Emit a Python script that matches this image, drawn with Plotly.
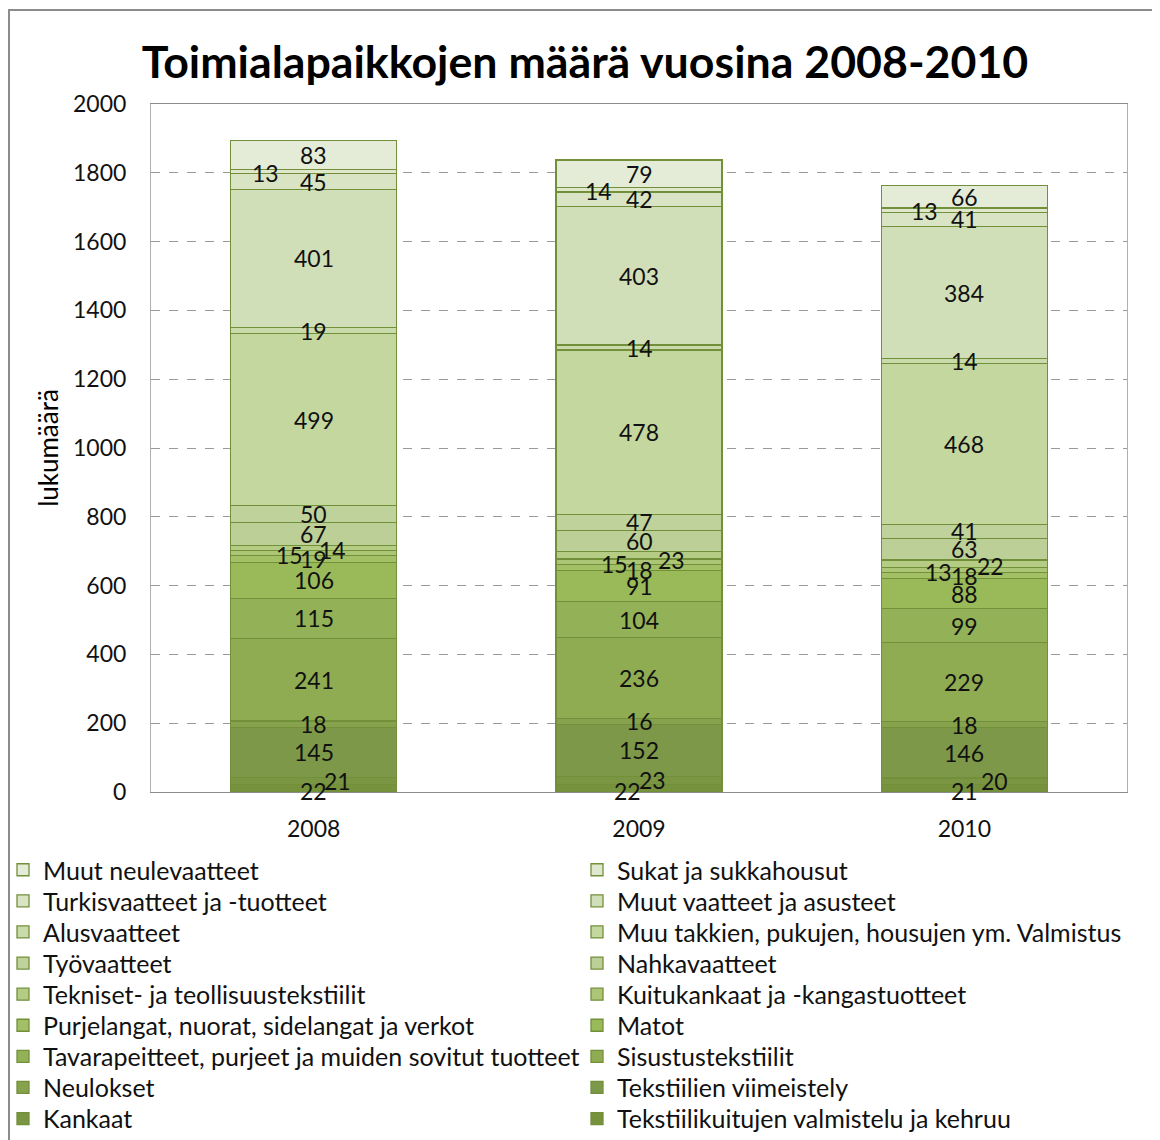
import numpy as np
import plotly.graph_objects as go

years = ["2008", "2009", "2010"]

# series from bottom of the stack to the top
series_names = [
    "Tekstiilikuitujen valmistelu ja kehruu",
    "Kankaat",
    "Tekstiilien viimeistely",
    "Neulokset",
    "Sisustustekstiilit",
    "Tavarapeitteet, purjeet ja muiden sovitut tuotteet",
    "Matot",
    "Purjelangat, nuorat, sidelangat ja verkot",
    "Kuitukankaat ja -kangastuotteet",
    "Tekniset- ja teollisuustekstiilit",
    "Nahkavaatteet",
    "Työvaatteet",
    "Muu takkien, pukujen, housujen ym. Valmistus",
    "Alusvaatteet",
    "Muut vaatteet ja asusteet",
    "Turkisvaatteet ja -tuotteet",
    "Sukat ja sukkahousut",
    "Muut neulevaatteet",
]

values_2008 = [22, 21, 145, 18, 241, 115, 106, 19, 15, 14, 67, 50, 499, 19, 401, 45, 13, 83]
values_2009 = [22, 23, 152, 16, 236, 104, 91, 18, 15, 23, 60, 47, 478, 14, 403, 42, 14, 79]
values_2010 = [21, 20, 146, 18, 229, 99, 88, 18, 13, 22, 63, 41, 468, 14, 384, 41, 13, 66]

y_ticks = [0, 200, 400, 600, 800, 1000, 1200, 1400, 1600, 1800, 2000]

colors = [
    "#76923C", "#7A9642", "#7D9848", "#86A24C", "#8FAC52", "#93B257", "#9ABA59",
    "#A3C067", "#ACC676", "#B5CC85", "#BCCF97", "#BFD29C", "#C4D79F", "#CADBAB",
    "#D1DFB9", "#D8E4C3", "#DFE8CD", "#E4ECD7",
]

# pixel nudges for overlapping data labels: (series index, year index) -> (dx, dy down)
label_shift = {
    (0, 0): (0, 3), (1, 0): (24, 0), (8, 0): (-24, 2), (9, 0): (19, 2), (16, 0): (-48, 1),
    (0, 1): (-12, 3), (1, 1): (13, 0), (7, 1): (0, 3), (8, 1): (-25, 2), (9, 1): (32, 5),
    (16, 1): (-41, 1),
    (0, 2): (0, 3), (1, 2): (30, 0), (7, 2): (0, 1), (8, 2): (-26, 2), (9, 2): (26, 2),
    (16, 2): (-40, 1),
}

data = np.array([values_2008, values_2009, values_2010]).T  # series x years
tops = np.cumsum(data, axis=0)
mids = tops - data / 2.0

font_family = "Lato, 'Open Sans', sans-serif"

# plot area geometry (figure pixels)
L, T, W, H = 143, 96, 976, 688
FIG_W, FIG_H = 1160, 1140

n = len(series_names)
fig = go.Figure()
legends = {}
for s, name in enumerate(series_names):
    lid = "legend" if s == 0 else f"legend{s + 1}"
    k = n - 1 - s
    row, col = k // 2, k % 2
    text_left = 35 if col == 0 else 609
    row_y = 862 + 31.1 * row
    legends[lid] = dict(
        x=(text_left - 40 - L) / W, xanchor="left",
        y=(T + H - row_y) / H, yanchor="middle",
        itemwidth=30, bgcolor="rgba(0,0,0,0)",
        font=dict(family=font_family, size=25, color="#111111"),
    )
    fig.add_trace(go.Bar(
        x=years, y=data[s], name=name, legend=lid,
        marker=dict(color=colors[s], line=dict(color="#72903A", width=1.3)),
        hoverinfo="x+y+name",
    ))

annotations = []
for i in range(n):
    for j in range(len(years)):
        dx, dy = label_shift.get((i, j), (0, 0))
        annotations.append(dict(
            x=j, y=mids[i, j], xref="x", yref="y", text=str(data[i, j]),
            showarrow=False, xshift=dx, yshift=-dy,
            font=dict(family=font_family, size=23, color="#111111"),
        ))

fig.update_layout(
    width=FIG_W, height=FIG_H,
    margin=dict(l=L, r=FIG_W - L - W, t=T, b=FIG_H - T - H, autoexpand=False),
    paper_bgcolor="white", plot_bgcolor="white",
    barmode="stack", bargap=0.49,
    font=dict(family=font_family, color="#111111"),
    title=dict(text="<b>Toimialapaikkojen määrä vuosina 2008-2010</b>",
               x=577 / FIG_W, xanchor="center", y=1 - 54 / FIG_H, yanchor="middle",
               font=dict(family=font_family, size=44.7, color="black")),
    annotations=annotations,
    showlegend=True,
    shapes=[dict(type="rect", xref="paper", yref="paper",
                 x0=(1 - L) / W, x1=(1150 - L) / W,
                 y0=(T + H - 1150) / H, y1=(T + H - 2) / H,
                 line=dict(color="#8c8c8c", width=2), fillcolor="rgba(0,0,0,0)",
                 layer="below")],
    **legends,
)

fig.update_yaxes(
    range=[0, 2000], tickvals=y_ticks, ticktext=[str(v) for v in y_ticks],
    showgrid=True, gridcolor="#9a9a9a", griddash="dash", gridwidth=1,
    showline=True, linecolor="#b0b0b0", mirror=True, linewidth=1,
    zeroline=False, ticks="", ticklabelstandoff=19, automargin=False,
    tickfont=dict(family=font_family, size=23, color="#111111"),
    title=dict(text="lukumäärä", standoff=6,
               font=dict(family=font_family, size=26, color="black")),
)
fig.update_xaxes(
    type="category", range=[-0.5, 2.5],
    showline=True, linecolor="#8c8c8c", mirror=True, linewidth=1,
    ticks="", ticklabelstandoff=16, automargin=False,
    tickfont=dict(family=font_family, size=23, color="#111111"),
)

fig.write_html("out.html")
